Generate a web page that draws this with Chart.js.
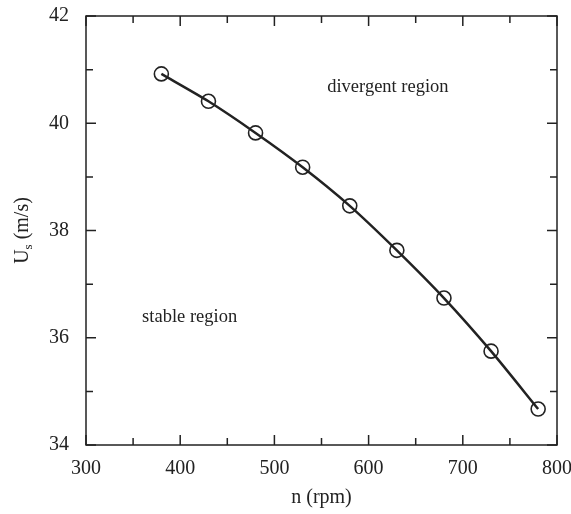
<!DOCTYPE html>
<html>
<head>
<meta charset="utf-8">
<script src="https://cdn.jsdelivr.net/npm/chart.js@4"></script>
<style>
  html, body { margin: 0; padding: 0; background: #fff; }
  canvas { display: block; }
</style>
</head>
<body>
<canvas id="chart" width="571" height="514"></canvas>
<script>
// speed n (rpm) and critical velocity Us (m/s)
const speeds = [380, 430, 480, 530, 580, 630, 680, 730, 780];
const criticalU = [40.92, 40.41, 39.82, 39.18, 38.46, 37.63, 36.74, 35.75, 34.67];
const xMajorTicks = [300, 400, 500, 600, 700, 800];
const xMinorTicks = [350, 450, 550, 650, 750];
const yMajorTicks = [34, 36, 38, 40, 42];
const yMinorTicks = [35, 37, 39, 41];

const serif = "'Liberation Serif', 'DejaVu Serif', serif";
const ink = "#222";

// frame with inward ticks on all four sides + text labels
const framePlugin = {
  id: "frame",
  afterDraw(chart) {
    const { ctx, chartArea: a } = chart;
    const xs = chart.scales.x, ys = chart.scales.y;
    ctx.save();
    ctx.strokeStyle = ink;
    ctx.lineWidth = 1.5;
    ctx.strokeRect(a.left, a.top, a.right - a.left, a.bottom - a.top);

    function xTick(v, len) {
      const px = xs.getPixelForValue(v);
      ctx.beginPath();
      ctx.moveTo(px, a.bottom); ctx.lineTo(px, a.bottom - len);
      ctx.moveTo(px, a.top); ctx.lineTo(px, a.top + len);
      ctx.stroke();
    }
    function yTick(v, len) {
      const py = ys.getPixelForValue(v);
      ctx.beginPath();
      ctx.moveTo(a.left, py); ctx.lineTo(a.left + len, py);
      ctx.moveTo(a.right, py); ctx.lineTo(a.right - len, py);
      ctx.stroke();
    }
    xMajorTicks.forEach(v => xTick(v, 10));
    xMinorTicks.forEach(v => xTick(v, 7));
    yMajorTicks.forEach(v => yTick(v, 10));
    yMinorTicks.forEach(v => yTick(v, 7));

    ctx.fillStyle = ink;
    ctx.textBaseline = "middle";
    ctx.textAlign = "center";
    ctx.font = "18.5px " + serif;
    ctx.fillText("divergent region", xs.getPixelForValue(620.5), ys.getPixelForValue(40.67));
    ctx.fillText("stable region", xs.getPixelForValue(410), ys.getPixelForValue(36.38));

    // y axis title with subscript
    ctx.translate(23, (a.top + a.bottom) / 2);
    ctx.rotate(-Math.PI / 2);
    ctx.textAlign = "left";
    ctx.font = "20px " + serif;
    const w1 = ctx.measureText("U").width;
    ctx.font = "13px " + serif;
    const w2 = ctx.measureText("s").width;
    ctx.font = "20px " + serif;
    const w3 = ctx.measureText(" (m/s)").width;
    let x0 = -(w1 + w2 + w3) / 2;
    ctx.fillText("U", x0, 0);
    ctx.font = "13px " + serif;
    ctx.fillText("s", x0 + w1, 6);
    ctx.font = "20px " + serif;
    ctx.fillText(" (m/s)", x0 + w1 + w2, 0);
    ctx.restore();
  }
};

new Chart(document.getElementById("chart").getContext("2d"), {
  type: "line",
  data: {
    labels: speeds,
    datasets: [{
      data: speeds.map((s, i) => ({ x: s, y: criticalU[i] })),
      borderColor: ink,
      borderWidth: 2.5,
      tension: 0.25,
      pointRadius: 7,
      pointHoverRadius: 7,
      pointBorderWidth: 1.6,
      pointBorderColor: ink,
      pointBackgroundColor: "rgba(0,0,0,0)"
    }]
  },
  options: {
    responsive: false,
    animation: false,
    devicePixelRatio: 1,
    layout: { padding: { left: 0, right: 14, top: 16, bottom: 0 } },
    plugins: { legend: { display: false }, tooltip: { enabled: false } },
    scales: {
      x: {
        type: "linear",
        min: 300, max: 800,
        afterFit(scale) {
          scale.height = 69;
          scale.paddingLeft = 0;
          scale.paddingRight = 0;
        },
        afterBuildTicks(scale) { scale.ticks = xMajorTicks.map(v => ({ value: v })); },
        grid: { display: false, drawTicks: false },
        border: { display: false },
        ticks: { font: { family: serif, size: 20 }, color: ink, padding: 12 },
        title: { display: true, text: "n (rpm)", font: { family: serif, size: 20 }, color: ink, padding: { top: 4 } }
      },
      y: {
        min: 34, max: 42,
        afterFit(scale) {
          scale.width = 86;
          scale.paddingTop = 0;
          scale.paddingBottom = 0;
        },
        afterBuildTicks(scale) { scale.ticks = yMajorTicks.map(v => ({ value: v })); },
        grid: { display: false, drawTicks: false },
        border: { display: false },
        ticks: { font: { family: serif, size: 20 }, color: ink, padding: 17 }
      }
    }
  },
  plugins: [framePlugin]
});
</script>
</body>
</html>
